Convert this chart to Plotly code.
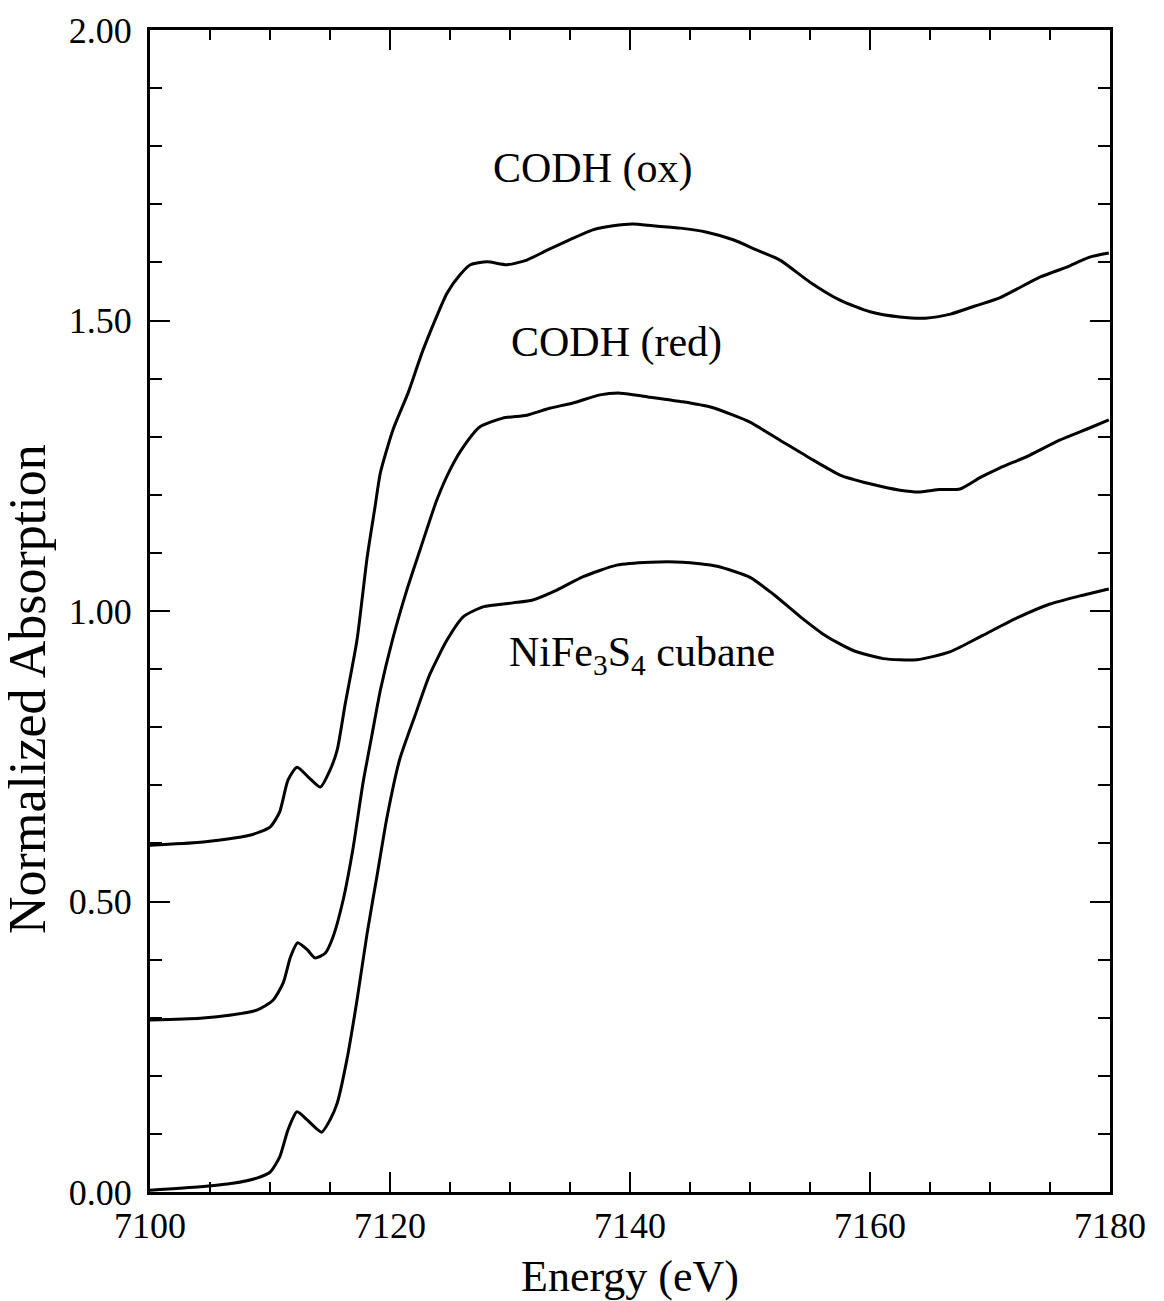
import plotly.graph_objects as go

# ---- data ----
ox_E = [7100, 7104.2, 7108.3, 7110.0, 7110.8, 7111.5, 7112.25, 7113.3, 7114.2, 7115.0, 7115.6,
        7116.25, 7117.25, 7118.1, 7118.75, 7119.2, 7120.25, 7121.5, 7122.75, 7124.75, 7125.8,
        7126.7, 7128.1, 7129.75, 7131.4, 7133.1, 7135.0, 7136.9, 7138.6, 7140.25, 7141.9,
        7144.2, 7146.4, 7148.6, 7150.6, 7152.5, 7155.0, 7157.5, 7160.0, 7162.5, 7164.6,
        7166.7, 7168.75, 7170.8, 7174.2, 7176.4, 7178.3, 7179.9]
ox_A = [0.597, 0.602, 0.614, 0.628, 0.654, 0.709, 0.731, 0.712, 0.697, 0.726, 0.761,
        0.838, 0.950, 1.093, 1.179, 1.238, 1.312, 1.375, 1.449, 1.547, 1.578,
        1.596, 1.601, 1.596, 1.604, 1.621, 1.639, 1.656, 1.663, 1.666, 1.663,
        1.659, 1.652, 1.639, 1.621, 1.604, 1.566, 1.535, 1.515, 1.506, 1.504,
        1.511, 1.525, 1.539, 1.575, 1.592, 1.609, 1.616]

red_E = [7100, 7104.2, 7106.9, 7108.9, 7110.25, 7111.1, 7111.7, 7112.3, 7113.1, 7113.75, 7114.6,
         7115.25, 7116.1, 7116.9, 7117.75, 7118.5, 7119.2, 7120.2, 7121.4, 7122.5, 7123.9,
         7125.0, 7126.1, 7127.5, 7129.4, 7131.4, 7133.3, 7135.25, 7137.5, 7139.2, 7141.7,
         7144.4, 7146.7, 7148.6, 7150.0, 7152.5, 7155.0, 7157.5, 7160.0, 7162.5, 7164.2,
         7165.8, 7167.5, 7169.2, 7170.8, 7173.3, 7175.8, 7178.3, 7179.9]
red_A = [0.296, 0.299, 0.305, 0.313, 0.330, 0.360, 0.404, 0.429, 0.417, 0.403, 0.411,
         0.439, 0.503, 0.589, 0.704, 0.787, 0.864, 0.950, 1.036, 1.105, 1.191,
         1.243, 1.282, 1.317, 1.332, 1.337, 1.349, 1.358, 1.372, 1.375, 1.368,
         1.360, 1.351, 1.337, 1.325, 1.294, 1.263, 1.234, 1.219, 1.208, 1.205,
         1.209, 1.210, 1.230, 1.246, 1.268, 1.294, 1.315, 1.329]

cub_E = [7100, 7104.2, 7106.9, 7108.9, 7110.0, 7110.8, 7111.5, 7112.25, 7113.1, 7114.3, 7115.0,
         7115.6, 7116.4, 7117.25, 7118.1, 7118.9, 7119.75, 7120.8, 7122.1, 7123.3, 7124.75,
         7126.1, 7127.75, 7130.25, 7131.9, 7133.9, 7136.1, 7138.9, 7141.7, 7144.4, 7147.25,
         7150.0, 7152.0, 7154.2, 7156.4, 7158.6, 7161.1, 7163.9, 7166.7, 7169.4,
         7172.25, 7175.0, 7177.5, 7179.9]
cub_A = [0.003, 0.009, 0.015, 0.024, 0.034, 0.060, 0.107, 0.138, 0.124, 0.103, 0.124,
         0.153, 0.227, 0.330, 0.446, 0.542, 0.645, 0.744, 0.821, 0.890, 0.950,
         0.990, 1.007, 1.014, 1.019, 1.036, 1.059, 1.079, 1.084, 1.084, 1.077,
         1.058, 1.028, 0.990, 0.956, 0.932, 0.918, 0.916, 0.930, 0.958,
         0.988, 1.012, 1.026, 1.038]

labels = ["CODH (ox)", "CODH (red)", "NiFe<sub>3</sub>S<sub>4</sub> cubane"]
label_E = [7136.9, 7138.9, 7141.0]
label_A = [1.761, 1.463, 0.924]

FONT = "Liberation Serif"

fig = go.Figure()
for E, A in [(ox_E, ox_A), (red_E, red_A), (cub_E, cub_A)]:
    fig.add_trace(go.Scatter(x=E, y=A, mode="lines",
                             line=dict(color="black", width=3, shape="spline", smoothing=0.6),
                             showlegend=False, hoverinfo="skip"))

for t, xe, ya in zip(labels, label_E, label_A):
    fig.add_annotation(x=xe, y=ya, text=t, showarrow=False, xanchor="center", yanchor="middle",
                       font=dict(family=FONT, size=42, color="black"))

fig.add_annotation(xref="paper", yref="paper", x=-0.127, y=0.433, text="Normalized Absorption",
                   textangle=-90, showarrow=False, xanchor="center", yanchor="middle",
                   font=dict(family=FONT, size=52, color="black"))

axis_common = dict(showline=True, linecolor="black", linewidth=3, mirror="allticks",
                   ticks="inside", tickcolor="black", tickwidth=2, showgrid=False, zeroline=False,
                   automargin=False,
                   tickfont=dict(family=FONT, size=36, color="black"))

fig.update_xaxes(range=[7100, 7180], tick0=7100, dtick=20, ticklen=20,
                 minor=dict(dtick=5, ticks="inside", ticklen=10, tickcolor="black", tickwidth=2, showgrid=False),
                 title=dict(text="Energy (eV)", font=dict(family=FONT, size=44, color="black"), standoff=20),
                 ticklabelstandoff=0,
                 **axis_common)
fig.update_yaxes(range=[0, 2.0], tick0=0, dtick=0.5, tickformat=".2f", ticklen=20,
                 minor=dict(dtick=0.1, ticks="inside", ticklen=12, tickcolor="black", tickwidth=2, showgrid=False),
                 ticklabelstandoff=8,
                 **axis_common)

fig.update_layout(width=1164, height=1301, plot_bgcolor="white", paper_bgcolor="white",
                  margin=dict(l=150, r=54, t=30, b=109),
                  font=dict(family=FONT, color="black"))

fig.write_html("out.html")
